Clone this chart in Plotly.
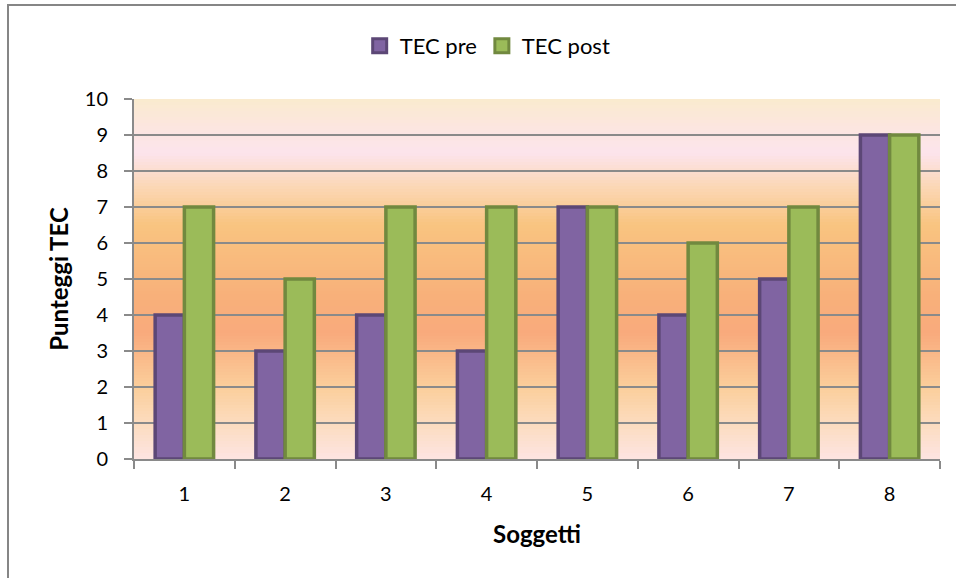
import plotly.graph_objects as go

# Data
subjects = ["1", "2", "3", "4", "5", "6", "7", "8"]
tec_pre = [4, 3, 4, 3, 7, 4, 5, 9]
tec_post = [7, 5, 7, 7, 7, 6, 7, 9]
series_names = ["TEC pre", "TEC post"]

FONT = "Lato"
W, H = 956, 578
L, R, T, B = 134, 16, 99, 119
PRE_FILL, PRE_EDGE = "#8064A2", "#5C4776"
POST_FILL, POST_EDGE = "#9BBB59", "#71893F"

fig = go.Figure()
fig.add_trace(go.Bar(
    x=subjects, y=tec_pre, name=series_names[0], showlegend=False,
    marker=dict(color=PRE_FILL, line=dict(color=PRE_EDGE, width=3.5)),
))
fig.add_trace(go.Bar(
    x=subjects, y=tec_post, name=series_names[1], showlegend=False,
    marker=dict(color=POST_FILL, line=dict(color=POST_EDGE, width=3.5)),
))
# Legend entries with larger square swatches
for name, fill, edge in [(series_names[0], PRE_FILL, PRE_EDGE), (series_names[1], POST_FILL, POST_EDGE)]:
    fig.add_trace(go.Scatter(
        x=[None], y=[None], mode="markers", name=name,
        marker=dict(symbol="square", size=14, color=fill, line=dict(color=edge, width=3)),
    ))

# Background gradient of the plot area (value on y axis -> colour)
stops = [
    (0.0, (253, 228, 226)),
    (1.0, (252, 220, 190)),
    (2.0, (251, 206, 155)),
    (3.5, (249, 170, 124)),
    (4.5, (248, 176, 122)),
    (6.5, (249, 196, 128)),
    (7.5, (251, 214, 178)),
    (8.5, (252, 228, 236)),
    (9.3, (252, 230, 222)),
    (10.0, (250, 235, 206)),
]


def colour_at(v):
    for (a, ca), (b, cb) in zip(stops[:-1], stops[1:]):
        if a <= v <= b:
            t = (v - a) / (b - a) if b > a else 0
            c = [round(ca[i] + (cb[i] - ca[i]) * t) for i in range(3)]
            return "rgb(%d,%d,%d)" % tuple(c)
    return "rgb(%d,%d,%d)" % stops[-1][1]


shapes = []
n = 120
for i in range(n):
    y0 = 10 * i / n
    y1 = 10 * (i + 1) / n
    shapes.append(dict(
        type="rect", xref="paper", yref="y", x0=0, x1=1, y0=y0, y1=y1 + 0.01,
        fillcolor=colour_at((y0 + y1) / 2), line=dict(width=0), layer="below",
    ))

# Outer chart frame
pw = W - L - R
ph = H - T - B
shapes.append(dict(
    type="rect", xref="paper", yref="paper",
    x0=(8 - L) / pw, x1=(W + 20 - L) / pw,
    y0=(H - B - (H + 20)) / ph, y1=(H - B - 5) / ph,
    line=dict(color="#868686", width=2), fillcolor="rgba(0,0,0,0)", layer="above",
))

fig.update_layout(
    width=W, height=H,
    margin=dict(l=L, r=R, t=T, b=B),
    paper_bgcolor="white",
    plot_bgcolor="rgba(0,0,0,0)",
    barmode="group", bargap=0.42, bargroupgap=0,
    font=dict(family=FONT, size=20, color="#000000"),
    shapes=shapes,
    showlegend=True,
    legend=dict(
        orientation="h", x=0.28, xanchor="left", y=(H - B - 46) / ph, yanchor="middle",
        font=dict(family=FONT, size=22), bgcolor="rgba(0,0,0,0)",
        itemwidth=30, tracegroupgap=0, itemsizing="trace",
    ),
    xaxis=dict(
        type="category", showline=True, linecolor="#8A8A8A", linewidth=2,
        ticks="outside", ticklen=8, tickwidth=2, tickcolor="#8A8A8A",
        tickson="boundaries", showgrid=False, ticklabelstandoff=16,
        tickfont=dict(family=FONT, size=20),
        title=dict(text="<b>Soggetti</b>", font=dict(family=FONT, size=24), standoff=22),
    ),
    yaxis=dict(
        range=[0, 10], dtick=1, showline=True, linecolor="#8A8A8A", linewidth=2,
        ticks="outside", ticklen=8, tickwidth=2, tickcolor="#8A8A8A",
        showgrid=True, gridcolor="#8A8A8A", gridwidth=1.5, zeroline=False,
        ticklabelstandoff=12,
        tickfont=dict(family=FONT, size=20),
        title=dict(text="<b>Punteggi TEC</b>", font=dict(family=FONT, size=24), standoff=9),
    ),
)

fig.write_html("out.html")
